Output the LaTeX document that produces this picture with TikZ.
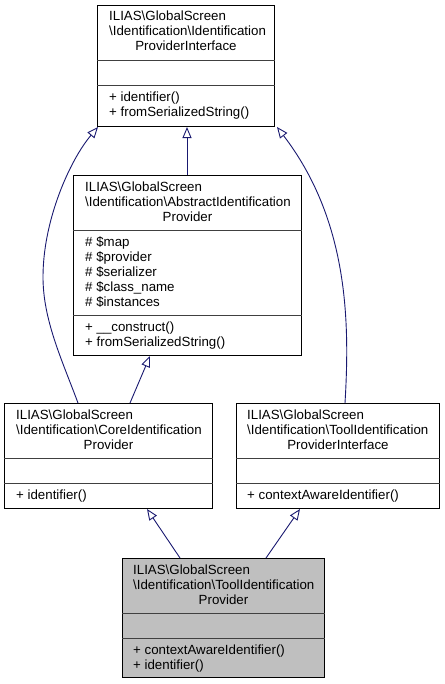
\documentclass[tikz,border=0pt]{standalone}
\usepackage{fontspec}
\setmainfont{Liberation Sans}
\usetikzlibrary{calc,arrows.meta}
\definecolor{edgeblue}{HTML}{191970}
\definecolor{divgray}{HTML}{404040}
\definecolor{focusgray}{HTML}{BFBFBF}
\tikzset{
  classbox/.style={draw=black, line width=1bp, rectangle, inner sep=0pt, anchor=north west, fill=white},
  divider/.style={draw=divgray, line width=1bp},
  txt/.style={inner sep=0pt, font=\fontsize{13.3bp}{15bp}\selectfont},
  inherit/.style={draw=edgeblue, line width=0.9bp, -{Triangle[open, length=11bp, width=9bp, fill=white]}},
}
\begin{document}
\begin{tikzpicture}[x=1bp, y=-1bp]
\useasboundingbox (0,0) rectangle (445,684);

% ---------- top: IdentificationProviderInterface
\node[classbox, minimum width=177bp, minimum height=121bp] (top) at (97,5) {};
\draw[divider] ($(top.north west)+(0,56)$) -- ($(top.north east)+(0,56)$);
\draw[divider] ($(top.north west)+(0,81)$) -- ($(top.north east)+(0,81)$);
\node[txt, anchor=base west] (topt1) at ($(top.north west)+(12,16)$) {ILIAS\textbackslash GlobalScreen};
\node[txt, anchor=base west] (topt2) at ($(top.north west)+(12,31)$) {\textbackslash Identification\textbackslash Identification};
\node[txt, anchor=base] (topt3) at ($(top.north)+(0,46)$) {ProviderInterface};
\node[txt, anchor=base west] (topm1) at ($(top.north west)+(12,97)$) {+ identifier()};
\node[txt, anchor=base west] (topm2) at ($(top.north west)+(12,112)$) {+ fromSerializedString()};

% ---------- abstract
\node[classbox, minimum width=228bp, minimum height=180bp] (abs) at (73,175) {};
\draw[divider] ($(abs.north west)+(0,55)$) -- ($(abs.north east)+(0,55)$);
\draw[divider] ($(abs.north west)+(0,140)$) -- ($(abs.north east)+(0,140)$);
\node[txt, anchor=base west] (abst1) at ($(abs.north west)+(12,16)$) {ILIAS\textbackslash GlobalScreen};
\node[txt, anchor=base west] (abst2) at ($(abs.north west)+(12,31)$) {\textbackslash Identification\textbackslash AbstractIdentification};
\node[txt, anchor=base] (abst3) at ($(abs.north)+(0,46)$) {Provider};
\node[txt, anchor=base west] (absa1) at ($(abs.north west)+(12,71)$) {\# \$map};
\node[txt, anchor=base west] (absa2) at ($(abs.north west)+(12,86)$) {\# \$provider};
\node[txt, anchor=base west] (absa3) at ($(abs.north west)+(12,101)$) {\# \$serializer};
\node[txt, anchor=base west] (absa4) at ($(abs.north west)+(12,116)$) {\# \$class\_name};
\node[txt, anchor=base west] (absa5) at ($(abs.north west)+(12,131)$) {\# \$instances};
\node[txt, anchor=base west] (absm1) at ($(abs.north west)+(12,156)$) {+ \_\_construct()};
\node[txt, anchor=base west] (absm2) at ($(abs.north west)+(12,171)$) {+ fromSerializedString()};

% ---------- core
\node[classbox, minimum width=208bp, minimum height=105bp] (core) at (4,403) {};
\draw[divider] ($(core.north west)+(0,55)$) -- ($(core.north east)+(0,55)$);
\draw[divider] ($(core.north west)+(0,80)$) -- ($(core.north east)+(0,80)$);
\node[txt, anchor=base west] (coret1) at ($(core.north west)+(12,16)$) {ILIAS\textbackslash GlobalScreen};
\node[txt, anchor=base west] (coret2) at ($(core.north west)+(12,31)$) {\textbackslash Identification\textbackslash CoreIdentification};
\node[txt, anchor=base] (coret3) at ($(core.north)+(0,46)$) {Provider};
\node[txt, anchor=base west] (corem1) at ($(core.north west)+(12,96)$) {+ identifier()};

% ---------- tool interface
\node[classbox, minimum width=203bp, minimum height=105bp] (tint) at (236,403) {};
\draw[divider] ($(tint.north west)+(0,55)$) -- ($(tint.north east)+(0,55)$);
\draw[divider] ($(tint.north west)+(0,80)$) -- ($(tint.north east)+(0,80)$);
\node[txt, anchor=base west] (tintt1) at ($(tint.north west)+(11,16)$) {ILIAS\textbackslash GlobalScreen};
\node[txt, anchor=base west] (tintt2) at ($(tint.north west)+(11,31)$) {\textbackslash Identification\textbackslash ToolIdentification};
\node[txt, anchor=base] (tintt3) at ($(tint.north)+(0,46)$) {ProviderInterface};
\node[txt, anchor=base west] (tintm1) at ($(tint.north west)+(11,96)$) {+ contextAwareIdentifier()};

% ---------- tool (focus)
\node[classbox, fill=focusgray, minimum width=202bp, minimum height=119bp] (tool) at (122,558) {};
\draw[divider] ($(tool.north west)+(0,55)$) -- ($(tool.north east)+(0,55)$);
\draw[divider] ($(tool.north west)+(0,80)$) -- ($(tool.north east)+(0,80)$);
\node[txt, anchor=base west] (toolt1) at ($(tool.north west)+(11,16)$) {ILIAS\textbackslash GlobalScreen};
\node[txt, anchor=base west] (toolt2) at ($(tool.north west)+(11,31)$) {\textbackslash Identification\textbackslash ToolIdentification};
\node[txt, anchor=base] (toolt3) at ($(tool.north)+(0,46)$) {Provider};
\node[txt, anchor=base west] (toolm1) at ($(tool.north west)+(11,96)$) {+ contextAwareIdentifier()};
\node[txt, anchor=base west] (toolm2) at ($(tool.north west)+(11,111)$) {+ identifier()};

% ---------- connectors
\draw[inherit] (abs.north -| 187,0) -- (top.south -| 187,0);
\draw[inherit] ($(core.north west)+(74,0)$) .. controls (62,360) and (43,320) .. (43,277)
   .. controls (43,220) and (70,160) .. ($(top.south west)+(1,0)$);
\draw[inherit] ($(tint.north west)+(109,0)$) .. controls (350,320) and (348,220) .. ($(top.south east)+(2,0)$);
\draw[inherit] ($(core.north west)+(126,0)$) -- ($(abs.south west)+(77,0)$);
\draw[inherit] ($(tool.north west)+(58,0)$) -- ($(core.south west)+(143,0)$);
\draw[inherit] ($(tool.north west)+(144,0)$) -- ($(tint.south west)+(64,0)$);
\end{tikzpicture}
\end{document}
